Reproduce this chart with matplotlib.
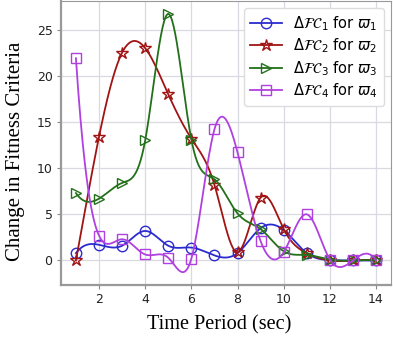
import numpy as np
import matplotlib
matplotlib.use("Agg")
import matplotlib.pyplot as plt

# time periods (sec)
t = np.arange(1, 15)

# change in fitness criteria per group
fc1 = [0.8, 1.7, 1.6, 3.2, 1.6, 1.4, 0.55, 0.8, 3.5, 3.3, 0.8, 0.05, 0.0, 0.0]
fc2 = [0.0, 13.4, 22.5, 23.0, 18.0, 13.2, 8.2, 0.9, 6.8, 3.4, 0.8, 0.0, 0.0, 0.0]
fc3 = [7.3, 6.7, 8.4, 13.0, 26.7, 13.1, 8.8, 5.1, 3.4, 1.0, 0.6, 0.1, 0.0, 0.0]
fc4 = [21.9, 2.7, 2.3, 0.65, 0.3, 0.2, 14.2, 11.7, 2.1, 0.9, 5.0, 0.1, 0.0, 0.0]

labels = [r"$\Delta\mathcal{FC}_1$ for $\varpi_1$",
          r"$\Delta\mathcal{FC}_2$ for $\varpi_2$",
          r"$\Delta\mathcal{FC}_3$ for $\varpi_3$",
          r"$\Delta\mathcal{FC}_4$ for $\varpi_4$"]
colors = ["#2b2bd0", "#a01414", "#22701a", "#b040e0"]
markers = ["o", "*", ">", "s"]


def spline(x, y, xs):
    # not-a-knot cubic spline, uniform spacing
    x = np.asarray(x, float)
    y = np.asarray(y, float)
    n = len(x)
    h = x[1] - x[0]
    A = np.zeros((n, n))
    b = np.zeros(n)
    A[0, 0:3] = [1, -2, 1]
    A[-1, -3:] = [1, -2, 1]
    for i in range(1, n - 1):
        A[i, i - 1:i + 2] = [1, 4, 1]
        b[i] = 6 * (y[i + 1] - 2 * y[i] + y[i - 1]) / h ** 2
    M = np.linalg.solve(A, b)
    idx = np.clip(((xs - x[0]) // h).astype(int), 0, n - 2)
    a = (x[idx + 1] - xs) / h
    c = (xs - x[idx]) / h
    return (M[idx] * (a * h) ** 3 / (6 * h) + M[idx + 1] * (c * h) ** 3 / (6 * h)
            + (y[idx] - M[idx] * h ** 2 / 6) * a + (y[idx + 1] - M[idx + 1] * h ** 2 / 6) * c)


fig = plt.figure(figsize=(3.93, 3.43), dpi=100)
ax = fig.add_axes([0.155, 0.169, 0.84, 0.828])
xs = np.linspace(1, 14, 400)
for y, c, m, lab in zip([fc1, fc2, fc3, fc4], colors, markers, labels):
    ax.plot(xs, spline(t, y, xs), color=c, lw=1.3)
    ax.plot(t, y, linestyle="none", marker=m, mfc="none", mec=c, ms=9 if m == "*" else 7.5, mew=1.0)
    ax.plot([], [], color=c, lw=1.3, marker=m, mfc="none", mec=c, ms=9 if m == "*" else 7.5, label=lab)

ax.set_xticks([2, 4, 6, 8, 10, 12, 14])
ax.set_yticks([0, 5, 10, 15, 20, 25])
ax.grid(True, color="#d9d9e2", lw=0.9)
ax.set_axisbelow(True)
ax.tick_params(length=3, width=0.8, color="#888888", labelsize=9, labelcolor="#222222", pad=3)
for s in ax.spines.values():
    s.set_color("#999999")
    s.set_linewidth(0.8)
ax.spines["left"].set_linewidth(1.6)
ax.spines["bottom"].set_linewidth(1.6)
ax.set_xlabel("Time Period (sec)", family="Liberation Serif", fontsize=14.6)
ax.set_ylabel("Change in Fitness Criteria", family="Liberation Serif", fontsize=15)
ax.xaxis.set_label_coords(0.48, -0.105)
ax.yaxis.set_label_coords(-0.11, 0.47)
ax.legend(loc="upper right", fontsize=10.5, framealpha=1, edgecolor="#dddddd",
          handlelength=2.2, borderaxespad=0.5, labelspacing=0.25)
fig.savefig("out.png", dpi=100)
